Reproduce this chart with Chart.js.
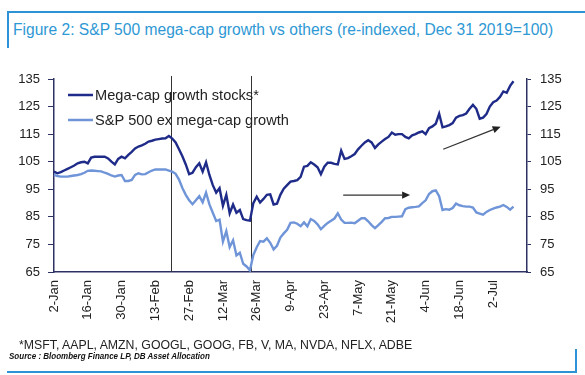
<!DOCTYPE html>
<html><head><meta charset="utf-8">
<script src="https://cdn.jsdelivr.net/npm/chart.js@4.4.1/dist/chart.umd.min.js"></script>
<style>
html,body{margin:0;padding:0;background:#fff;}
#wrap{position:relative;width:585px;height:375px;overflow:hidden;font-family:"Liberation Sans",Arial,sans-serif;}
canvas{position:absolute;left:0;top:0;}
.bar{position:absolute;background:#2b93d6;}
.title{position:absolute;left:13px;top:22px;font-size:15.6px;line-height:15px;color:#2e98d4;white-space:nowrap;}
.note{position:absolute;left:19px;top:339px;font-size:12.3px;line-height:12px;color:#222;white-space:nowrap;}
.src{position:absolute;left:9px;top:352px;font-size:9px;line-height:9px;font-weight:bold;font-style:italic;color:#111;white-space:nowrap;transform:scaleX(0.89);transform-origin:left top;}
</style></head>
<body><div id="wrap">
<div class="bar" style="left:7px;top:11px;width:578px;height:2px"></div>
<div class="bar" style="left:7px;top:11px;width:2px;height:37px"></div>
<div class="bar" style="left:7px;top:371px;width:570px;height:2px"></div>
<div class="bar" style="left:575px;top:349px;width:2px;height:24px"></div>
<div class="title">Figure 2: S&amp;P 500 mega-cap growth vs others (re-indexed, Dec 31 2019=100)</div>
<canvas id="c" width="585" height="375"></canvas>
<div class="note">*MSFT, AAPL, AMZN, GOOGL, GOOG, FB, V, MA, NVDA, NFLX, ADBE</div>
<div class="src">Source : Bloomberg Finance LP, DB Asset Allocation</div>
</div>
<script>
// ---- data ----
const TICK_LABELS = ['2-Jan','16-Jan','30-Jan','13-Feb','27-Feb','12-Mar','26-Mar','9-Apr','23-Apr','7-May','21-May','4-Jun','18-Jun','2-Jul'];
const SERIES_NAMES = ['Mega-cap growth stocks*', 'S&P 500 ex mega-cap growth'];
const MEGA_CAP = [
101.4,100.8,101.2,101.8,102.4,103.0,103.6,104.4,104.8,105.0,
104.4,106.5,106.8,106.8,106.8,106.8,106.2,105.0,104.0,106.0,
106.8,106.2,107.5,108.6,109.8,110.5,110.9,111.5,112.3,112.6,
113.0,113.2,113.4,113.5,114.3,113.4,112.0,109.5,107.0,104.0,
100.5,101.0,103.0,104.4,101.4,104.8,100.2,96.5,93.8,95.4,
89.0,93.0,86.3,89.5,86.5,87.5,84.2,83.8,83.6,90.0,
92.3,90.2,91.5,93.0,93.2,89.5,89.8,93.0,95.2,96.5,
97.8,98.0,98.3,99.5,103.2,103.5,104.8,104.0,103.0,100.5,
103.2,104.6,104.6,104.2,104.0,109.0,106.0,106.3,107.0,107.8,
109.5,110.8,112.0,112.8,112.0,110.0,111.3,112.3,113.2,114.0,
115.6,114.8,115.0,115.0,114.0,113.5,114.6,115.0,115.6,116.0,
115.0,117.2,117.8,118.8,122.4,117.5,117.8,118.3,119.0,121.0,
121.6,121.9,122.5,124.2,125.6,124.2,120.6,121.0,122.3,125.0,
126.6,127.2,128.5,130.5,130.0,132.5,134.2];
const SP500_EX = [
100.2,99.8,99.6,99.6,99.6,99.8,100.0,100.2,100.5,101.0,
101.7,101.8,101.7,101.6,101.5,101.0,100.6,100.0,99.6,100.0,
100.2,98.0,98.0,98.4,100.2,100.8,100.4,100.5,101.2,101.8,
102.2,102.2,102.2,102.2,101.8,101.4,100.6,98.5,95.5,93.0,
91.0,89.6,91.0,92.5,90.3,93.8,89.5,86.5,83.5,84.0,
76.0,79.8,74.0,76.5,71.0,72.0,68.0,67.0,65.6,71.2,
74.0,76.2,76.0,77.2,75.6,73.2,74.5,77.5,79.0,80.3,
82.8,83.0,82.5,81.6,83.0,81.6,84.2,83.5,82.3,80.5,
81.7,82.8,83.6,84.4,86.3,84.0,82.8,82.8,82.9,82.7,
83.6,84.5,84.5,83.4,82.0,80.9,82.0,83.2,84.5,84.6,
85.0,85.0,85.1,85.2,87.8,88.3,88.5,88.6,88.8,90.0,
91.0,93.3,94.3,94.6,92.5,87.5,87.8,87.6,88.2,89.8,
89.2,88.9,88.7,88.7,88.4,86.6,86.2,85.8,86.8,87.5,
88.0,88.4,88.7,89.3,88.6,87.6,88.7];
// event lines (Feb 19 peak, Mar 23 trough) in category-index units
const EVENT_IDX = [34.5, 58.2];
// arrows in [index, value] coordinates
const ARROWS = [
  {from:[85.6, 92.9], to:[105.4, 92.9]},
  {from:[115.2, 109.5], to:[132.2, 117.7]}
];

// categories: weekdays from 2 Jan 2020 to 16 Jul 2020
const MONTHS = ['Jan','Feb','Mar','Apr','May','Jun','Jul','Aug','Sep','Oct','Nov','Dec'];
const CATEGORIES = [];
for (let d = new Date(Date.UTC(2020,0,2)); d <= new Date(Date.UTC(2020,6,16)); d.setUTCDate(d.getUTCDate()+1)) {
  const wd = d.getUTCDay();
  if (wd !== 0 && wd !== 6) CATEGORIES.push(d.getUTCDate() + '-' + MONTHS[d.getUTCMonth()]);
}

const FONT = '"Liberation Sans", Arial, sans-serif';
const NAVY = '#2d3263';
const DARK = '#1f2b88';
const LIGHT = '#6f95d8';

const annot = {
  id:'annot',
  beforeDatasetsDraw(chart){
    const {ctx, chartArea:a, scales:{x}} = chart;
    ctx.save();
    ctx.strokeStyle = '#333';
    ctx.lineWidth = 1;
    EVENT_IDX.forEach(i=>{
      const px = Math.round(x.getPixelForValue(i)) + 0.5;
      ctx.beginPath(); ctx.moveTo(px, a.top - 3); ctx.lineTo(px, a.bottom); ctx.stroke();
    });
    ctx.restore();
  },
  afterDatasetsDraw(chart){
    const {ctx, chartArea:a, scales:{x,y}} = chart;
    ctx.save();
    // arrows
    ctx.strokeStyle = '#333'; ctx.fillStyle = '#222'; ctx.lineWidth = 1.2;
    ARROWS.forEach(ar=>{
      const x1 = x.getPixelForValue(ar.from[0]), y1 = y.getPixelForValue(ar.from[1]);
      const x2 = x.getPixelForValue(ar.to[0]), y2 = y.getPixelForValue(ar.to[1]);
      const ang = Math.atan2(y2-y1, x2-x1);
      const L = 8, W = 3.6;
      const bx = x2 - L*Math.cos(ang), by = y2 - L*Math.sin(ang);
      ctx.beginPath(); ctx.moveTo(x1,y1); ctx.lineTo(bx,by); ctx.stroke();
      ctx.beginPath();
      ctx.moveTo(x2,y2);
      ctx.lineTo(bx + W*Math.sin(ang), by - W*Math.cos(ang));
      ctx.lineTo(bx - W*Math.sin(ang), by + W*Math.cos(ang));
      ctx.closePath(); ctx.fill();
    });
    // legend
    const ds = chart.data.datasets;
    ctx.font = '14.6px ' + FONT;
    ctx.textBaseline = 'middle';
    ctx.textAlign = 'left';
    ds.forEach((d,k)=>{
      const ly = a.top + 16 + k*25;
      ctx.strokeStyle = d.borderColor; ctx.lineWidth = 2.5;
      ctx.beginPath(); ctx.moveTo(a.left + 14, ly); ctx.lineTo(a.left + 39, ly); ctx.stroke();
      ctx.fillStyle = '#222';
      ctx.fillText(d.label, a.left + 41, ly + 0.5);
    });
    ctx.restore();
  }
};

const tickFont = {family: FONT, size: 13};
new Chart(document.getElementById('c'), {
  type:'line',
  data:{labels:CATEGORIES, datasets:[
    {label:SERIES_NAMES[0], data:MEGA_CAP, borderColor:DARK, borderWidth:2.4, pointRadius:0, tension:0, yAxisID:'y'},
    {label:SERIES_NAMES[1], data:SP500_EX, borderColor:LIGHT, borderWidth:2.4, pointRadius:0, tension:0, yAxisID:'y'}
  ]},
  options:{
    responsive:false, animation:false, devicePixelRatio:1,
    layout:{padding:{top:79,left:0,right:0,bottom:0}},
    plugins:{legend:{display:false}, tooltip:{enabled:false}},
    scales:{
      x:{type:'category', offset:false,
         grid:{display:false, drawTicks:false},
         border:{display:true, color:NAVY, width:1.5},
         ticks:{autoSkip:false, maxRotation:90, minRotation:90, padding:8, color:'#222', font:tickFont,
           callback:(v,i)=> (i%10===0 && TICK_LABELS[i/10]) ? TICK_LABELS[i/10] : null},
         afterFit:s=>{s.height=103;}},
      y:{position:'left', min:65, max:135,
         ticks:{stepSize:10, padding:8, color:'#222', font:tickFont},
         grid:{drawOnChartArea:false, drawTicks:true, tickLength:6, color:NAVY, lineWidth:1},
         border:{display:true, color:NAVY, width:1.5},
         afterFit:s=>{s.width=54;}},
      y2:{position:'right', min:65, max:135,
         ticks:{stepSize:10, padding:9, color:'#222', font:tickFont},
         grid:{drawOnChartArea:false, drawTicks:true, tickLength:4, color:NAVY, lineWidth:1},
         border:{display:true, color:NAVY, width:1.5},
         afterFit:s=>{s.width=58;}}
    }
  },
  plugins:[annot]
});
</script>
</body></html>
